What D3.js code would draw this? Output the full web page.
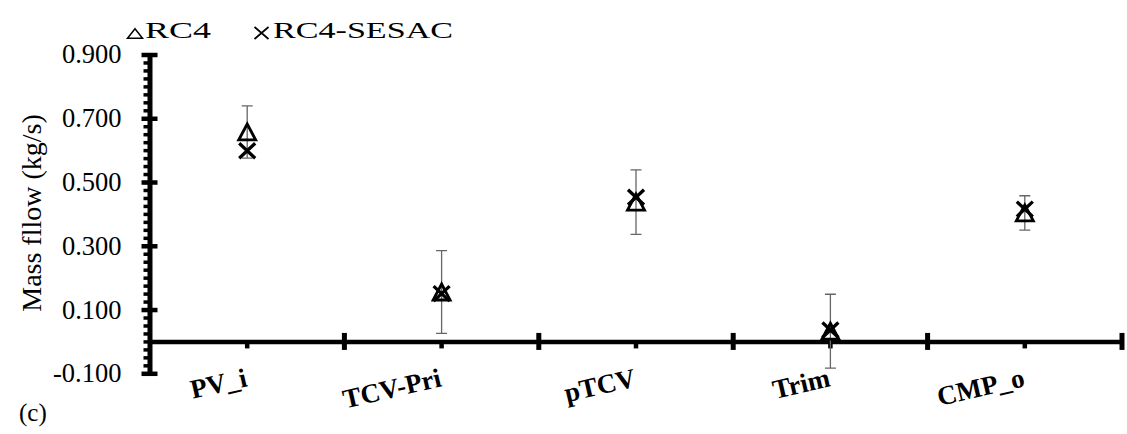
<!DOCTYPE html>
<html>
<head>
<meta charset="utf-8">
<script src="https://cdn.jsdelivr.net/npm/d3@7/dist/d3.min.js"></script>
<style>
  html, body { margin: 0; padding: 0; background: #fff; }
  svg { display: block; }
  text { font-family: "Liberation Serif", "Times New Roman", serif; fill: #000; }
</style>
</head>
<body>
<svg id="chart" width="1127" height="434"></svg>
<script>
// Measurement points along the flow path
const categories = ["PV_i", "TCV-Pri", "pTCV", "Trim", "CMP_o"];
// Mass flow (kg/s) per case
const rc4Values = [0.657, 0.155, 0.437, 0.032, 0.403];
const rc4Errors = [0.082, 0.130, 0.101, 0.116, 0.054];
const sesacValues = [0.598, 0.150, 0.452, 0.036, 0.415];
// Axis ticks
const yMajorTicks = [-0.1, 0.1, 0.3, 0.5, 0.7, 0.9];
const yMinorStep = 0.025;
const seriesNames = ["RC4", "RC4-SESAC"];
const yTitle = "Mass fllow (kg/s)";
const panelTag = "(c)";

const svg = d3.select("#chart");

const x = d3.scaleBand().domain(categories).range([150, 1122]);
const y = d3.scaleLinear().domain([-0.1, 0.9]).range([373.3, 54.5]);
const cx = c => x(c) + x.bandwidth() / 2;

const rc4 = categories.map((c, i) => ({ c, v: rc4Values[i], e: rc4Errors[i] }));
const sesac = categories.map((c, i) => ({ c, v: sesacValues[i] }));

// ---- Y axis: minor ticks on the left, major ticks across the line ----
const yMinor = d3.range(-0.1, 0.9 + 1e-9, yMinorStep);
const gyMinor = svg.append("g")
  .attr("transform", "translate(149.5,0)")
  .call(d3.axisLeft(y).tickValues(yMinor).tickSize(6).tickSizeOuter(0).tickFormat(""));
gyMinor.select(".domain").attr("stroke", "#000").attr("stroke-width", 5);
gyMinor.selectAll(".tick line").attr("stroke", "#000").attr("stroke-width", 3.5);

const gyMajor = svg.append("g")
  .attr("transform", "translate(149.5,0)")
  .call(d3.axisLeft(y).tickValues(yMajorTicks).tickSize(8).tickSizeOuter(0)
    .tickPadding(20).tickFormat(d => d.toFixed(3)));
gyMajor.select(".domain").remove();
gyMajor.selectAll(".tick line").attr("x1", 8).attr("stroke", "#000").attr("stroke-width", 4.5);
gyMajor.selectAll(".tick text")
  .attr("font-family", '"Liberation Serif", "Times New Roman", serif')
  .attr("font-size", 26.5)
  .attr("fill", "#000");

// ---- X axis along zero: centre ticks below, category boundary ticks across ----
const gx = svg.append("g")
  .attr("transform", `translate(0,${y(0)})`)
  .call(d3.axisBottom(x).tickSize(7).tickSizeOuter(0).tickFormat(""));
gx.select(".domain").attr("stroke", "#000").attr("stroke-width", 4.5);
gx.selectAll(".tick line").attr("stroke", "#000").attr("stroke-width", 4.5);

gx.selectAll(".boundary")
  .data(categories)
  .join("line")
  .attr("class", "boundary")
  .attr("x1", c => x(c) + x.bandwidth())
  .attr("x2", c => x(c) + x.bandwidth())
  .attr("y1", -8.5).attr("y2", 8.5)
  .attr("stroke", "#000").attr("stroke-width", 5);

// Category labels, tilted
svg.append("g").selectAll("text")
  .data(categories)
  .join("text")
  .attr("transform", c => `translate(${cx(c) + 1},386) rotate(-13)`)
  .attr("text-anchor", "end")
  .attr("font-weight", "bold")
  .attr("font-size", 27)
  .text(c => c);

// ---- Error bars (RC4) ----
const capHalf = 5.5;
const eb = svg.append("g").attr("stroke", "#666").attr("stroke-width", 1.3).attr("fill", "none");
eb.selectAll("path")
  .data(rc4)
  .join("path")
  .attr("d", d => {
    const px = cx(d.c), top = y(d.v + d.e), bot = y(d.v - d.e);
    return `M${px},${top}V${bot}M${px - capHalf},${top}H${px + capHalf}M${px - capHalf},${bot}H${px + capHalf}`;
  });

// ---- Markers ----
const triPath = (w, h) => `M0,${-h / 2}L${w / 2},${h / 2}L${-w / 2},${h / 2}Z`;
const crossPath = (w, h) => `M${-w / 2},${-h / 2}L${w / 2},${h / 2}M${w / 2},${-h / 2}L${-w / 2},${h / 2}`;

svg.append("g").selectAll("path")
  .data(rc4)
  .join("path")
  .attr("transform", d => `translate(${cx(d.c)},${y(d.v)})`)
  .attr("d", triPath(17, 16))
  .attr("fill", "none").attr("stroke", "#000").attr("stroke-width", 2.8)
  .attr("stroke-linejoin", "miter");

svg.append("g").selectAll("path")
  .data(sesac)
  .join("path")
  .attr("transform", d => `translate(${cx(d.c)},${y(d.v)})`)
  .attr("d", crossPath(16, 15))
  .attr("fill", "none").attr("stroke", "#000").attr("stroke-width", 3.3);

// ---- Legend ----
const legend = svg.append("g");
legend.append("path")
  .attr("transform", "translate(135,33.5)")
  .attr("d", triPath(15, 9.5))
  .attr("fill", "none").attr("stroke", "#000").attr("stroke-width", 1.5);
legend.append("text")
  .attr("x", 145).attr("y", 38.3)
  .attr("font-size", 24)
  .attr("textLength", 66).attr("lengthAdjust", "spacingAndGlyphs")
  .text(seriesNames[0]);
legend.append("path")
  .attr("transform", "translate(261.5,33)")
  .attr("d", crossPath(14, 12))
  .attr("fill", "none").attr("stroke", "#000").attr("stroke-width", 1.7);
legend.append("text")
  .attr("x", 273).attr("y", 38.3)
  .attr("font-size", 24)
  .attr("textLength", 180).attr("lengthAdjust", "spacingAndGlyphs")
  .text(seriesNames[1]);

// ---- Axis title and panel tag ----
svg.append("text")
  .attr("transform", "translate(41,213) rotate(-90)")
  .attr("text-anchor", "middle")
  .attr("font-size", 28)
  .text(yTitle);

svg.append("text")
  .attr("x", 19).attr("y", 421)
  .attr("font-size", 25)
  .text(panelTag);
</script>
</body>
</html>
